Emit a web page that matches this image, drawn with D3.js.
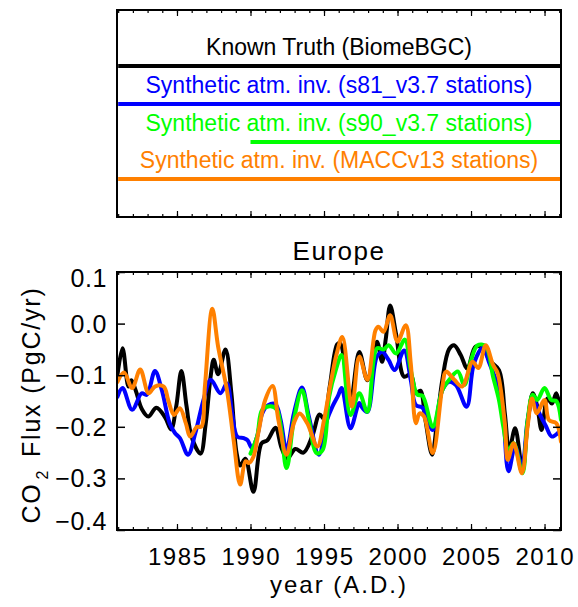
<!DOCTYPE html>
<html>
<head>
<meta charset="utf-8">
<script src="https://cdn.jsdelivr.net/npm/d3@7"></script>
<style>
  html, body { margin: 0; padding: 0; background: #fff; }
  svg text { font-family: "Liberation Sans", Arial, Helvetica, sans-serif; }
</style>
</head>
<body>
<svg id="chart" width="578" height="607"></svg>
<script>
// European CO2 flux (PgC/yr): model truth vs. synthetic atmospheric inversions
const knownTruth = [
  [1980.95,-0.100],[1981.3,-0.048],[1981.7,-0.122],[1981.9,-0.110],[1982.2,-0.130],[1982.6,-0.165],
  [1983.05,-0.180],[1983.6,-0.163],[1984.2,-0.182],[1984.6,-0.205],[1984.95,-0.160],[1985.3,-0.092],
  [1985.65,-0.160],[1986.0,-0.220],[1986.6,-0.252],[1986.95,-0.195],[1987.3,-0.100],[1987.5,-0.070],
  [1987.8,-0.098],[1988.3,-0.050],[1988.7,-0.135],[1989.05,-0.250],[1989.3,-0.275],[1989.65,-0.262],
  [1990.2,-0.326],[1990.75,-0.232],[1991.15,-0.226],[1991.7,-0.202],[1992.1,-0.240],[1992.5,-0.262],
  [1993.05,-0.243],[1993.6,-0.250],[1994.2,-0.218],[1994.7,-0.176],[1995.0,-0.185],[1995.4,-0.120],
  [1995.9,-0.040],[1996.1,-0.038],[1996.4,-0.075],[1996.8,-0.155],[1997.4,-0.055],[1997.95,-0.110],
  [1998.6,-0.035],[1998.95,-0.074],[1999.2,-0.030],[1999.5,0.035],[1999.9,-0.020],[2000.45,-0.103],
  [2000.9,-0.098],[2001.25,-0.135],[2001.55,-0.130],[2001.9,-0.187],[2002.35,-0.254],[2002.7,-0.187],
  [2003.05,-0.109],[2003.5,-0.050],[2003.85,-0.042],[2004.3,-0.061],[2004.75,-0.087],[2005.3,-0.045],
  [2005.8,-0.047],[2006.25,-0.071],[2006.9,-0.090],[2007.3,-0.174],[2007.6,-0.245],[2008.0,-0.203],
  [2008.5,-0.283],[2008.85,-0.193],[2009.2,-0.135],[2009.5,-0.160],[2009.8,-0.206],[2010.2,-0.145],
  [2010.5,-0.155],[2010.8,-0.135],[2011.12,-0.174]
];
const invS81 = [
  [1980.95,-0.142],[1981.3,-0.125],[1981.95,-0.167],[1982.6,-0.135],[1982.95,-0.138],[1983.5,-0.092],
  [1983.97,-0.129],[1984.5,-0.193],[1984.86,-0.212],[1985.2,-0.222],[1985.75,-0.254],[1986.25,-0.212],
  [1986.8,-0.148],[1987.3,-0.109],[1987.95,-0.135],[1988.4,-0.116],[1988.75,-0.174],[1989.1,-0.219],
  [1989.55,-0.222],[1989.8,-0.226],[1990.1,-0.241],[1990.45,-0.219],[1990.8,-0.174],[1991.2,-0.158],
  [1991.7,-0.156],[1992.05,-0.187],[1992.45,-0.245],[1992.95,-0.174],[1993.5,-0.124],[1993.97,-0.180],
  [1994.65,-0.254],[1995.2,-0.187],[1995.57,-0.161],[1995.95,-0.140],[1996.2,-0.125],[1996.8,-0.203],
  [1997.4,-0.154],[1997.6,-0.163],[1997.95,-0.171],[1998.6,-0.064],[1998.97,-0.055],[1999.4,-0.071],
  [1999.8,-0.090],[2000.45,-0.052],[2000.9,-0.109],[2001.25,-0.158],[2001.7,-0.163],[2002.4,-0.206],
  [2003.05,-0.129],[2003.5,-0.113],[2003.97,-0.119],[2004.7,-0.161],[2005.2,-0.077],[2005.8,-0.047],
  [2006.25,-0.077],[2007.04,-0.142],[2007.55,-0.286],[2008.0,-0.238],[2008.46,-0.277],[2008.85,-0.187],
  [2009.2,-0.145],[2009.65,-0.174],[2010.1,-0.199],[2010.5,-0.219],[2011.12,-0.206]
];
const invS90 = [
  [1990.0,-0.252],[1990.45,-0.219],[1990.8,-0.167],[1991.36,-0.160],[1991.8,-0.167],[1992.45,-0.280],
  [1992.95,-0.187],[1993.5,-0.129],[1993.97,-0.187],[1994.5,-0.251],[1994.9,-0.245],[1995.35,-0.142],
  [1995.8,-0.090],[1996.2,-0.061],[1996.8,-0.177],[1997.4,-0.135],[1997.95,-0.171],[1998.6,-0.048],
  [1999.05,-0.050],[1999.4,-0.042],[1999.9,-0.058],[2000.5,-0.031],[2000.9,-0.090],[2001.36,-0.138],
  [2001.7,-0.140],[2002.4,-0.200],[2003.05,-0.129],[2003.6,-0.106],[2004.1,-0.093],[2004.55,-0.119],
  [2005.0,-0.071],[2005.45,-0.042],[2006.0,-0.044],[2006.5,-0.103],[2006.9,-0.148],[2007.2,-0.200],
  [2007.55,-0.245],[2007.9,-0.232],[2008.5,-0.290],[2008.85,-0.187],[2009.2,-0.138],[2009.5,-0.148],
  [2010.0,-0.125],[2010.45,-0.148],[2010.8,-0.150],[2011.12,-0.187]
];
const invMACC = [
  [1980.95,-0.113],[1981.4,-0.095],[1981.95,-0.125],[1982.5,-0.089],[1983.07,-0.135],[1983.5,-0.122],
  [1984.1,-0.122],[1984.4,-0.148],[1984.8,-0.177],[1985.2,-0.164],[1985.6,-0.193],[1985.9,-0.219],
  [1986.36,-0.200],[1986.65,-0.200],[1986.9,-0.122],[1987.4,0.029],[1987.8,-0.045],[1988.4,-0.129],
  [1988.85,-0.225],[1989.3,-0.312],[1989.66,-0.267],[1989.9,-0.270],[1990.2,-0.258],[1990.57,-0.206],
  [1991.0,-0.148],[1991.5,-0.121],[1991.9,-0.187],[1992.45,-0.254],[1992.95,-0.193],[1993.34,-0.174],
  [1993.86,-0.193],[1994.55,-0.238],[1995.0,-0.187],[1995.45,-0.116],[1995.85,-0.060],[1996.25,-0.026],
  [1996.9,-0.161],[1997.4,-0.064],[1997.95,-0.109],[1998.5,-0.013],[1998.7,-0.006],[1999.05,-0.016],
  [1999.5,0.016],[2000.0,-0.035],[2000.56,-0.003],[2000.9,-0.077],[2001.25,-0.193],[2001.5,-0.174],
  [2001.8,-0.180],[2002.4,-0.251],[2003.05,-0.122],[2003.3,-0.093],[2003.86,-0.109],[2004.4,-0.122],
  [2005.1,-0.074],[2005.5,-0.086],[2006.0,-0.042],[2006.5,-0.080],[2006.8,-0.095],[2007.3,-0.193],
  [2007.5,-0.264],[2007.9,-0.232],[2008.46,-0.290],[2008.85,-0.199],[2009.15,-0.145],[2009.46,-0.174],
  [2010.0,-0.148],[2010.3,-0.187],[2010.8,-0.193],[2011.12,-0.229]
];

const seriesNames = [
  "Known Truth (BiomeBGC)",
  "Synthetic atm. inv. (s81_v3.7 stations)",
  "Synthetic atm. inv. (s90_v3.7 stations)",
  "Synthetic atm. inv. (MACCv13 stations)"
];
const seriesColors = ["#000000", "#0000ff", "#00ff00", "#ff8000"];
const seriesData = [knownTruth, invS81, invS90, invMACC];

const majorYears = [1985, 1990, 1995, 2000, 2005, 2010];
const minorYears = d3.range(1981, 2012);
const fluxTicks = [0.1, 0.0, -0.1, -0.2, -0.3, -0.4];

const svg = d3.select("#chart");
const plotBox = { left: 117, right: 561, top: 272, bottom: 530 };
const legendBox = { left: 117, right: 561, top: 10, bottom: 217 };

const x = d3.scaleLinear().domain([1980.92, 2011.12]).range([plotBox.left, plotBox.right]);
const y = d3.scaleLinear().domain([-0.4, 0.1]).range([plotBox.bottom, plotBox.top]);

// frame with inward ticks along top and bottom (years)
function yearTicks(g, box) {
  const bottom = d3.axisBottom(x).tickValues(minorYears).tickSize(-3).tickFormat("");
  const bottomMajor = d3.axisBottom(x).tickValues(majorYears).tickSize(-6).tickFormat("");
  const top = d3.axisTop(x).tickValues(minorYears).tickSize(-3).tickFormat("");
  const topMajor = d3.axisTop(x).tickValues(majorYears).tickSize(-6).tickFormat("");
  [[bottom, box.bottom], [bottomMajor, box.bottom], [top, box.top], [topMajor, box.top]].forEach(([ax, yy]) => {
    const a = g.append("g").attr("transform", `translate(0,${yy})`).call(ax);
    a.select(".domain").remove();
    a.selectAll("line").attr("stroke", "#000").attr("stroke-width", 1.2);
  });
  g.append("rect")
    .attr("x", box.left).attr("y", box.top)
    .attr("width", box.right - box.left).attr("height", box.bottom - box.top)
    .attr("fill", "none").attr("stroke", "#000").attr("stroke-width", 2);
}

// ---------- legend panel ----------
const legend = svg.append("g");
const legendLineY = [66, 104, 142, 179];
seriesData.forEach((d, i) => {
  legend.append("line")
    .attr("x1", Math.max(plotBox.left, x(Math.round(d[0][0])))).attr("x2", plotBox.right)
    .attr("y1", legendLineY[i]).attr("y2", legendLineY[i])
    .attr("stroke", seriesColors[i]).attr("stroke-width", 4);
  legend.append("text")
    .attr("x", (legendBox.left + legendBox.right) / 2)
    .attr("y", legendLineY[i] - 11.5)
    .attr("text-anchor", "middle")
    .attr("font-size", 23)
    .attr("fill", seriesColors[i])
    .text(seriesNames[i]);
});
yearTicks(legend, legendBox);

// ---------- main plot ----------
const plot = svg.append("g");
svg.append("clipPath").attr("id", "plotClip").append("rect")
  .attr("x", plotBox.left).attr("y", plotBox.top)
  .attr("width", plotBox.right - plotBox.left).attr("height", plotBox.bottom - plotBox.top);

const line = d3.line()
  .x(d => x(d[0])).y(d => y(d[1]))
  .curve(d3.curveCatmullRom.alpha(0.5));

const lines = plot.append("g").attr("clip-path", "url(#plotClip)");
seriesData.forEach((d, i) => {
  lines.append("path")
    .datum(d)
    .attr("d", line)
    .attr("fill", "none")
    .attr("stroke", seriesColors[i])
    .attr("stroke-width", 4)
    .attr("stroke-linejoin", "round")
    .attr("stroke-linecap", "round");
});

yearTicks(plot, plotBox);

// y ticks on both sides, inward
const yLeft = plot.append("g").attr("transform", `translate(${plotBox.left},0)`)
  .call(d3.axisLeft(y).tickValues(fluxTicks).tickSize(-8).tickFormat(""));
const yRight = plot.append("g").attr("transform", `translate(${plotBox.right},0)`)
  .call(d3.axisRight(y).tickValues(fluxTicks).tickSize(-8).tickFormat(""));
[yLeft, yRight].forEach(a => {
  a.select(".domain").remove();
  a.selectAll("line").attr("stroke", "#000").attr("stroke-width", 1.5);
});

// tick labels; the end labels sit just inside the frame
const yDomain = y.domain();
plot.append("g").selectAll("text")
  .data(fluxTicks).join("text")
  .attr("x", plotBox.left - 10)
  .attr("y", d => y(d) + 9 + (d === yDomain[1] ? 6 : d === yDomain[0] ? -9 : 0))
  .attr("text-anchor", "end")
  .attr("font-size", 25)
  .attr("letter-spacing", 0.6)
  .text(d => d3.format(".1f")(d));

plot.append("g").selectAll("text")
  .data(majorYears).join("text")
  .attr("x", d => x(d) + 0.8)
  .attr("y", 565)
  .attr("text-anchor", "middle")
  .attr("font-size", 24)
  .attr("letter-spacing", 1.6)
  .text(d => d);

// title and axis titles
svg.append("text")
  .attr("x", (plotBox.left + plotBox.right) / 2).attr("y", 260)
  .attr("text-anchor", "middle").attr("font-size", 26).attr("letter-spacing", 1.5)
  .text("Europe");

svg.append("text")
  .attr("x", (plotBox.left + plotBox.right) / 2).attr("y", 593)
  .attr("text-anchor", "middle").attr("font-size", 24).attr("letter-spacing", 2)
  .text("year (A.D.)");

const yTitle = svg.append("text")
  .attr("transform", `translate(40,${(plotBox.top + plotBox.bottom) / 2 + 4}) rotate(-90)`)
  .attr("text-anchor", "middle").attr("font-size", 25).attr("letter-spacing", 1.8);
yTitle.append("tspan").text("CO");
yTitle.append("tspan").attr("font-size", 16).attr("dy", 8).attr("dx", 3).text("2");
yTitle.append("tspan").attr("dy", -8).attr("dx", 3).text(" Flux (PgC/yr)");
</script>
</body>
</html>
